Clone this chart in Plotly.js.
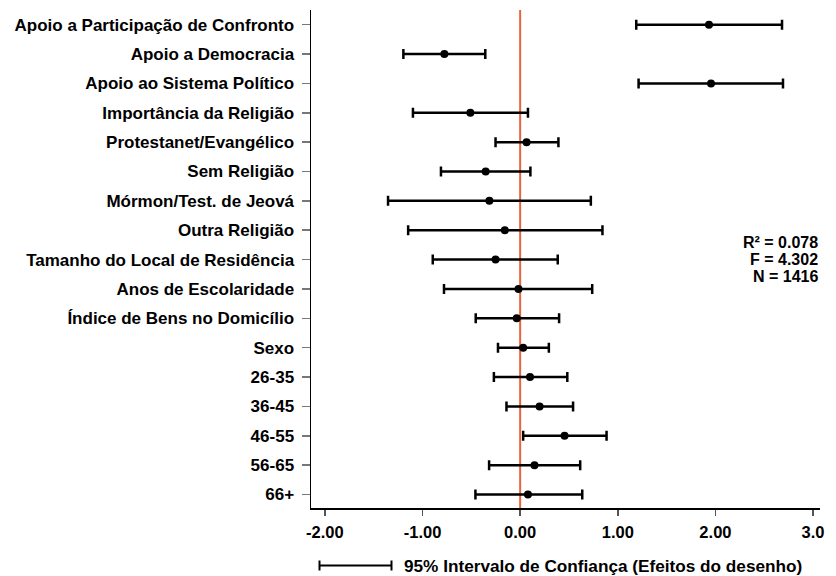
<!DOCTYPE html>
<html>
<head>
<meta charset="utf-8">
<script src="https://cdn.plot.ly/plotly-3.0.1.min.js"></script>
<style>html,body{margin:0;padding:0;background:#fff;}#chart{width:836px;height:576px;}</style>
</head>
<body>
<div id="chart"></div>
<script>
const categories = [
  "Apoio a Participação de Confronto",
  "Apoio a Democracia",
  "Apoio ao Sistema Político",
  "Importância da Religião",
  "Protestanet/Evangélico",
  "Sem Religião",
  "Mórmon/Test. de Jeová",
  "Outra Religião",
  "Tamanho do Local de Residência",
  "Anos de Escolaridade",
  "Índice de Bens no Domicílio",
  "Sexo",
  "26-35",
  "36-45",
  "46-55",
  "56-65",
  "66+"
];
const estimates = [1.934, -0.776, 1.955, -0.510, 0.066, -0.353, -0.315, -0.157, -0.252, -0.017, -0.035, 0.031, 0.101, 0.199, 0.455, 0.147, 0.080];
const lowerCI   = [1.189, -1.196, 1.213, -1.098, -0.252, -0.811, -1.353, -1.147, -0.895, -0.780, -0.455, -0.227, -0.269, -0.140, 0.031, -0.318, -0.458];
const upperCI   = [2.682, -0.357, 2.692, 0.080, 0.392, 0.105, 0.724, 0.843, 0.385, 0.738, 0.399, 0.294, 0.483, 0.542, 0.885, 0.615, 0.636];
const xTickVals = [-2, -1, 0, 1, 2, 3];
const xTickText = ["-2.00", "-1.00", "0.00", "1.00", "2.00", "3.0"];
const statsLines = ["R² = 0.078", "F = 4.302", "N = 1416"];
const legendText = "95% Intervalo de Confiança (Efeitos do desenho)";

const rowIdx = categories.map((_, i) => i);
const plus = estimates.map((v, i) => upperCI[i] - v);
const minus = estimates.map((v, i) => v - lowerCI[i]);

const FONT = "'Liberation Sans', Arial, Helvetica, sans-serif";

const trace = {
  type: "scatter",
  mode: "markers",
  x: estimates,
  y: rowIdx,
  marker: {color: "#000", size: 8},
  error_x: {type: "data", symmetric: false, array: plus, arrayminus: minus,
            color: "#000", thickness: 2.5, width: 5},
  hoverinfo: "skip",
  showlegend: false
};

// plot area geometry (pixels)
const L = 311, R = 16, T = 10, B = 68;
const W = 836, H = 576;
const pw = W - L - R, ph = H - T - B;
const px2paperX = p => (p - L) / pw;
const px2paperY = p => (H - B - p) / ph;

const legY = px2paperY(565.5);
const capH = 5 / ph;
const lx0 = px2paperX(319.5), lx1 = px2paperX(391.5);

const shapes = [
  {type: "line", xref: "x", yref: "paper", x0: 0, x1: 0, y0: 0, y1: 1,
   line: {color: "#E8643C", width: 2}, layer: "below"},
  {type: "line", xref: "paper", yref: "paper", x0: lx0, x1: lx1, y0: legY, y1: legY,
   line: {color: "#000", width: 2}},
  {type: "line", xref: "paper", yref: "paper", x0: lx0, x1: lx0, y0: legY - capH, y1: legY + capH,
   line: {color: "#000", width: 2}},
  {type: "line", xref: "paper", yref: "paper", x0: lx1, x1: lx1, y0: legY - capH, y1: legY + capH,
   line: {color: "#000", width: 2}}
];

const statsY = [242, 259, 276];
const annotations = statsLines.map((t, i) => ({
  text: "<b>" + t + "</b>", xref: "paper", yref: "paper",
  x: px2paperX(820), y: px2paperY(statsY[i]), xanchor: "right", yanchor: "middle",
  showarrow: false, font: {family: FONT, size: 16, color: "#000"}
}));
annotations.push({
  text: "<b>" + legendText + "</b>", xref: "paper", yref: "paper",
  x: px2paperX(402), y: legY, xanchor: "left", yanchor: "middle",
  showarrow: false, font: {family: FONT, size: 17.2, color: "#000"}
});

const layout = {
  width: W, height: H,
  margin: {l: L, r: R, t: T, b: B},
  paper_bgcolor: "#fff", plot_bgcolor: "#fff",
  showlegend: false,
  xaxis: {
    range: [-2.142, 3.071], tickvals: xTickVals, ticktext: xTickText,
    showgrid: false, zeroline: false, showline: true, linecolor: "#000", linewidth: 1.5,
    ticks: "outside", ticklen: 6, tickcolor: "#555", tickwidth: 1.5,
    ticklabelstandoff: 3,
    tickfont: {family: FONT, size: 16.5, color: "#000", weight: "bold"},
    fixedrange: true
  },
  yaxis: {
    range: [16.46, -0.5], tickvals: rowIdx, ticktext: categories,
    showgrid: false, zeroline: false, showline: true, linecolor: "#000", linewidth: 1.5,
    ticks: "outside", ticklen: 8, tickcolor: "#777", tickwidth: 1.5,
    ticklabelstandoff: 4,
    tickfont: {family: FONT, size: 17, color: "#000", weight: "bold"},
    fixedrange: true
  },
  shapes: shapes,
  annotations: annotations
};

Plotly.newPlot("chart", [trace], layout, {staticPlot: true, displayModeBar: false});
</script>
</body>
</html>
